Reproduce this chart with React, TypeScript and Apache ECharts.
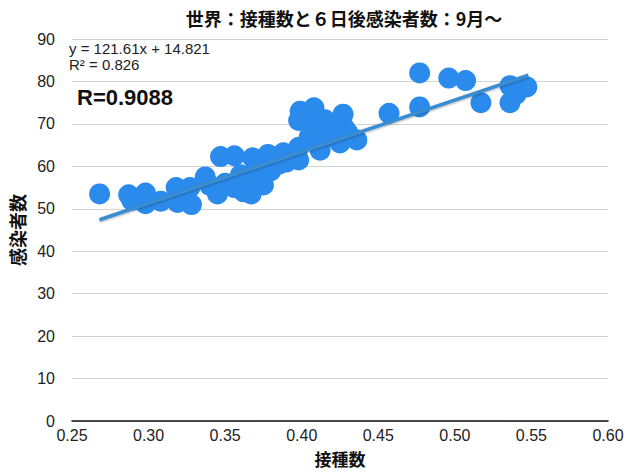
import { useEffect, useRef } from 'react';
import * as echarts from 'echarts';

const TITLE = '世界：接種数と６日後感染者数：9月〜';
const X_NAME = '接種数';
const Y_NAME = '感染者数';

// [接種数, 感染者数]
const POINTS: [number, number][] = [
  [0.268, 53.5],
  [0.287, 53.3],
  [0.289, 52.0],
  [0.298, 53.7],
  [0.298, 51.2],
  [0.308, 51.8],
  [0.318, 55.0],
  [0.319, 51.5],
  [0.327, 55.0],
  [0.328, 51.0],
  [0.337, 57.5],
  [0.34, 55.5],
  [0.345, 53.5],
  [0.347, 62.3],
  [0.35, 56.0],
  [0.356, 62.5],
  [0.356, 55.0],
  [0.36, 58.0],
  [0.362, 54.0],
  [0.365, 56.5],
  [0.367, 53.5],
  [0.368, 62.0],
  [0.37, 59.5],
  [0.375, 55.6],
  [0.375, 57.5],
  [0.378, 62.8],
  [0.38, 59.0],
  [0.385, 60.5],
  [0.388, 63.2],
  [0.39, 61.0],
  [0.398, 64.5],
  [0.398, 61.5],
  [0.398, 70.8],
  [0.399, 73.0],
  [0.405, 67.0],
  [0.408, 73.8],
  [0.41, 70.2],
  [0.412, 63.8],
  [0.415, 71.0],
  [0.418, 67.0],
  [0.42, 69.5],
  [0.425, 65.5],
  [0.427, 72.3],
  [0.428, 69.0],
  [0.43, 68.0],
  [0.436, 66.2],
  [0.457, 72.5],
  [0.477, 82.0],
  [0.477, 74.0],
  [0.496, 80.8],
  [0.507, 80.2],
  [0.517, 75.0],
  [0.536, 75.0],
  [0.536, 79.0],
  [0.54, 77.0],
  [0.547, 78.7],
];

// linear trend shown on the chart
const SLOPE = 121.61;
const INTERCEPT = 14.821;
const TREND_X = [0.268, 0.548];
const EQUATION = 'y = 121.61x + 14.821';
const R_SQUARED = 'R² = 0.826';
const R_TEXT = 'R=0.9088';

const FONT = "'Liberation Sans', Arial, sans-serif";
const CJK = "'Noto Sans CJK JP', 'Liberation Sans', sans-serif";

export default function App() {
  const chartRef = useRef<HTMLDivElement>(null);

  useEffect(() => {
    document.body.style.margin = '0';
    if (!chartRef.current) return;
    const chart = echarts.init(chartRef.current, undefined, { renderer: 'svg' });

    const trend = TREND_X.map((x) => [x, SLOPE * x + INTERCEPT]);

    chart.setOption({
      animation: false,
      backgroundColor: '#fff',
      title: {
        text: TITLE,
        left: 339,
        textAlign: 'center',
        top: 4,
        textStyle: { fontFamily: CJK, fontSize: 18, fontWeight: 'bold', color: '#111' },
      },
      grid: { left: 70, right: 22, top: 39, bottom: 53 },
      xAxis: {
        type: 'value',
        min: 0.25,
        max: 0.6,
        interval: 0.05,
        name: X_NAME,
        nameLocation: 'middle',
        nameGap: 29,
        nameTextStyle: { fontFamily: CJK, fontSize: 17, fontWeight: 'bold', color: '#111' },
        axisLine: { show: true, lineStyle: { color: '#111', width: 1.5 } },
        axisTick: { show: false },
        splitLine: { show: false },
        axisLabel: {
          fontFamily: FONT,
          fontSize: 16,
          color: '#222',
          margin: 6,
          formatter: (v: number) => v.toFixed(2),
        },
      },
      yAxis: {
        type: 'value',
        min: 0,
        max: 90,
        interval: 10,
        name: Y_NAME,
        nameLocation: 'middle',
        nameGap: 46,
        nameTextStyle: { fontFamily: CJK, fontSize: 18, fontWeight: 'bold', color: '#111' },
        axisLine: { show: false },
        axisTick: { show: false },
        splitLine: { lineStyle: { color: '#d2d2d2', width: 1 } },
        axisLabel: { fontFamily: FONT, fontSize: 16, color: '#222', margin: 17 },
      },
      graphic: [
        {
          type: 'text',
          left: 69,
          top: 41,
          style: { text: EQUATION, fontFamily: FONT, fontSize: 15, fill: '#222' },
        },
        {
          type: 'text',
          left: 69,
          top: 57,
          style: { text: R_SQUARED, fontFamily: FONT, fontSize: 15, fill: '#222' },
        },
        {
          type: 'text',
          left: 77,
          top: 86,
          style: { text: R_TEXT, fontFamily: FONT, fontSize: 22, fontWeight: 'bold', fill: '#111' },
        },
      ],
      series: [
        {
          type: 'scatter',
          data: POINTS,
          symbolSize: 21,
          itemStyle: { color: '#2a8bec', opacity: 1 },
        },
        {
          type: 'line',
          data: trend,
          symbol: 'none',
          lineStyle: {
            color: '#3a8dd2',
            width: 3.5,
            shadowColor: 'rgba(0,0,0,0.35)',
            shadowBlur: 2,
            shadowOffsetY: 1,
          },
          z: 3,
        },
      ],
    });

    return () => chart.dispose();
  }, []);

  return <div ref={chartRef} style={{ width: 630, height: 474 }} />;
}
